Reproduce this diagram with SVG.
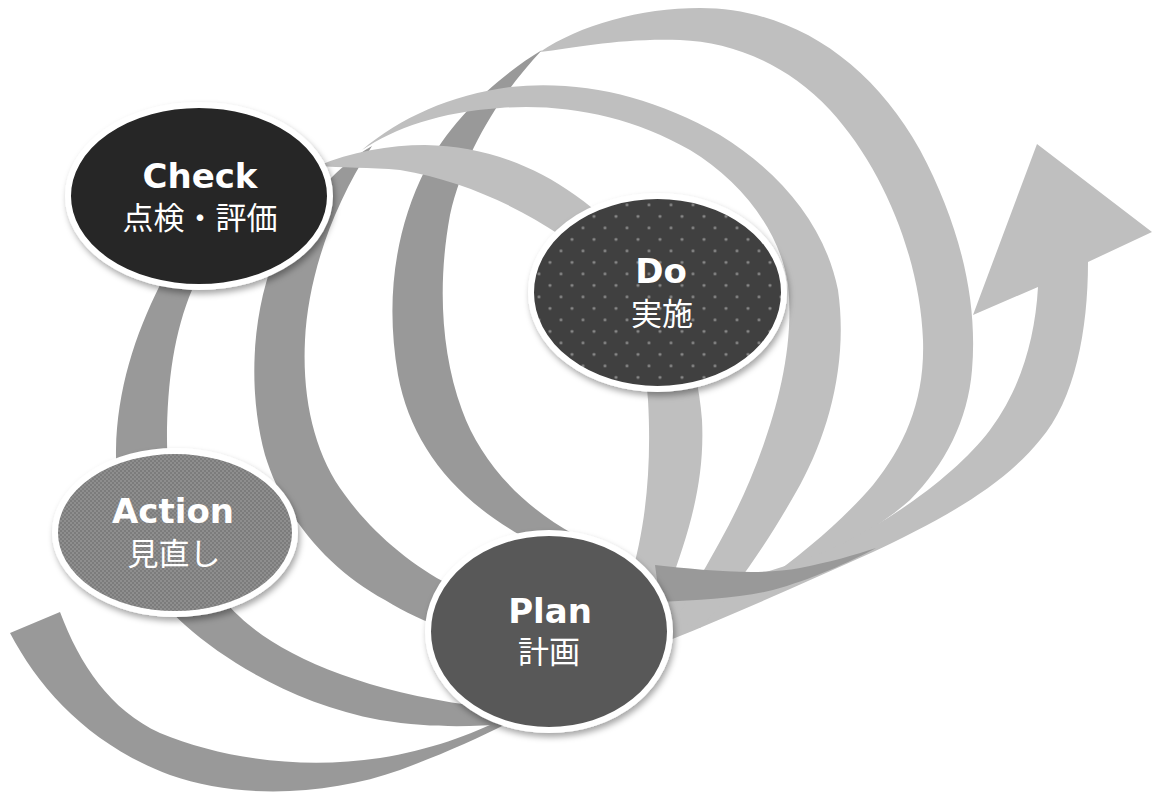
<svg xmlns="http://www.w3.org/2000/svg" width="1155" height="793" viewBox="0 0 1155 793">
<style>
.dark{fill:#999999}
.light{fill:#bfbfbf}
.node{stroke:#ffffff;stroke-width:6;filter:url(#sh)}
.en{font-family:"DejaVu Sans",sans-serif;font-weight:bold;font-size:34px;fill:#ffffff;text-anchor:middle}
.jp{font-family:"Noto Sans CJK JP","Noto Sans CJK SC",sans-serif;font-size:31px;fill:#ffffff;text-anchor:middle}
</style>
<defs>
<filter id="sh" x="-15%" y="-15%" width="135%" height="140%">
<feDropShadow dx="2" dy="4" stdDeviation="3" flood-color="#000000" flood-opacity="0.35"/>
</filter>
<pattern id="dots" patternUnits="userSpaceOnUse" x="599.5" y="199.25" width="22" height="23">
<rect width="22" height="23" fill="#404040"/>
<circle cx="5.5" cy="5.75" r="1.4" fill="#8c8c8c"/>
<circle cx="16.5" cy="17.25" r="1.4" fill="#8c8c8c"/>
</pattern>
<pattern id="fine" patternUnits="userSpaceOnUse" width="4" height="4">
<rect width="4" height="4" fill="#7b7b7b"/>
<circle cx="1" cy="1" r="0.9" fill="#979797"/>
<circle cx="3" cy="3" r="0.9" fill="#979797"/>
</pattern>
</defs>
<rect width="1155" height="793" fill="#ffffff"/>
<g id="connectors">
<path id="band-l3" class="light" d="M540,52 C580,25 640,8 700,8 C790,8 870,60 920,150 C960,225 978,300 972,370 C968,420 945,465 910,500 C870,535 800,575 690,628 L685,630 C760,590 830,535 873,485 C905,445 925,400 923,340 C920,260 885,170 830,110 C785,62 730,42 680,40 C620,38 575,48 540,52 Z"/>
<path id="arrow" class="light" d="M1037,144 L1152,232 L1088,262 C1088,330 1075,400 1040,440 C1000,490 930,525 873,552 C810,580 740,612 670,640 L665,600 C720,585 790,568 840,545 C900,515 960,470 990,430 C1020,390 1035,340 1038,287 L973,315 Z"/>
<path id="band-d4" class="dark" d="M542,50 C500,75 450,120 425,170 C395,230 385,300 398,375 C410,440 450,495 520,535 L575,535 C520,505 480,460 462,410 C440,350 438,280 450,215 C465,150 500,95 542,50 Z"/>
<path id="band-d3" class="dark" d="M372,146 C330,170 290,220 270,270 C250,330 250,400 265,455 C285,520 330,570 385,600 C405,612 425,622 450,630 L450,585 C410,565 370,530 345,495 C315,455 302,400 305,340 C308,280 330,210 372,146 Z"/>
<path id="band-l2" class="light" d="M362,150 C400,118 450,95 510,87 C580,80 650,95 720,135 C780,172 825,225 838,290 C848,360 830,430 800,485 C775,530 740,585 700,628 L676,622 C690,590 725,540 750,480 C775,420 795,350 788,285 C780,230 740,180 690,150 C630,115 560,103 500,108 C440,112 395,128 362,150 Z"/>
<path id="band-l1" class="light" d="M318,166 C350,152 390,145 425,145 C480,146 530,163 575,195 C640,240 695,320 702,420 C705,480 690,530 668,590 L630,580 C645,530 652,470 648,400 C644,330 610,270 560,235 C515,205 460,180 400,170 C370,167 340,168 318,166 Z"/>
<path id="band-d2" class="dark" d="M160,285 C135,335 117,390 116,450 C115,520 140,585 185,625 C230,665 300,705 380,720 C430,728 470,727 505,724 L470,705 C360,690 280,655 240,617 C195,575 167,510 167,440 C167,380 175,330 192,290 Z"/>
<path id="band-d1" class="dark" d="M10,633 C40,690 90,745 170,775 C240,800 330,795 400,770 C440,755 475,740 510,722 L505,718 C470,735 430,750 380,758 C300,770 220,758 160,733 C110,710 80,665 60,612 Z"/>
<path id="band-twist" class="dark" d="M655,565 C700,570 760,576 800,568 C830,562 855,555 876,548 C850,562 810,580 773,590 C740,598 700,600 660,602 Z"/>
</g>
<g id="node-check">
<ellipse class="node" cx="199" cy="196" rx="131" ry="91" fill="#262626"/>
<text class="en" x="200" y="188">Check</text>
<text class="jp" x="200" y="229">点検・評価</text>
</g>
<g id="node-do">
<ellipse class="node" cx="657.5" cy="292.5" rx="126.5" ry="96.5" fill="url(#dots)"/>
<text class="en" x="661" y="283">Do</text>
<text class="jp" x="662" y="325">実施</text>
</g>
<g id="node-action">
<ellipse class="node" cx="175" cy="532.5" rx="120" ry="81.5" fill="url(#fine)"/>
<text class="en" x="173" y="523">Action</text>
<text class="jp" x="174" y="565">見直し</text>
</g>
<g id="node-plan">
<ellipse class="node" cx="549" cy="631.5" rx="121" ry="98.5" fill="#595959"/>
<text class="en" x="550" y="623">Plan</text>
<text class="jp" x="549" y="663">計画</text>
</g>
</svg>
